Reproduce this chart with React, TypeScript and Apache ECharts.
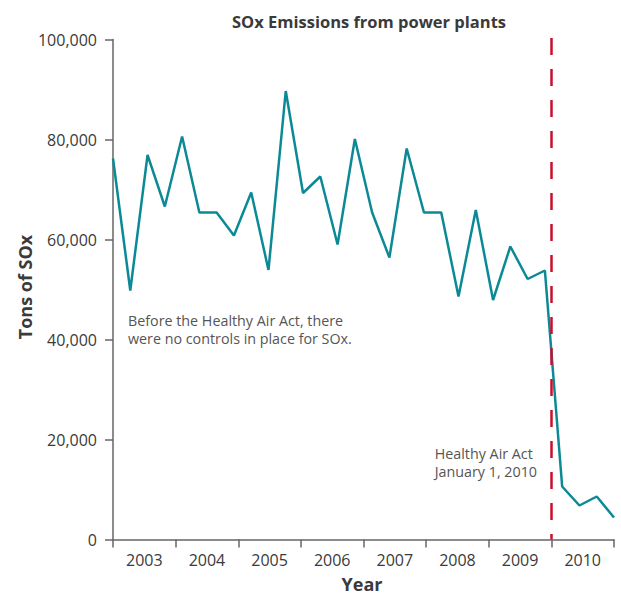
import React, { useEffect, useRef } from "react";
import * as echarts from "echarts";

const years = ["2003", "2004", "2005", "2006", "2007", "2008", "2009", "2010"];
const emissions = [
  76200, 49800, 76900, 66600, 80600, 65400, 65400, 60800, 69400, 53900,
  89700, 69300, 72600, 59000, 80100, 65400, 56400, 78200, 65400, 65400,
  48600, 65900, 47900, 58600, 52100, 53800, 10600, 6800, 8600, 4400,
];
const yTicks = [0, 20000, 40000, 60000, 80000, 100000];
const actYearIndex = 7; // boundary before 2010

const FONT = "'Open Sans', 'Noto Sans', sans-serif";

export default function App() {
  const ref = useRef<HTMLDivElement>(null);
  useEffect(() => {
    if (!ref.current) return;
    const chart = echarts.init(ref.current, null, { renderer: "svg" });
    const lastIdx = emissions.length - 1;
    const actX = (lastIdx * actYearIndex) / years.length;
    chart.setOption({
      animation: false,
      textStyle: { fontFamily: FONT },
      title: {
        text: "SOx Emissions from power plants",
        left: 364,
        textAlign: "center",
        top: 8,
        textStyle: { fontFamily: FONT, fontSize: 16.5, fontWeight: "bold", color: "#3a3a3a" },
      },
      grid: { left: 113, right: 7, top: 39.5, bottom: 55.5, containLabel: false },
      xAxis: [
        {
          type: "value",
          min: 0,
          max: lastIdx,
          show: false,
        },
        {
          type: "category",
          data: years,
          boundaryGap: true,
          position: "bottom",
          axisLine: { show: true, lineStyle: { color: "#666", width: 1.5 } },
          axisTick: { show: true, alignWithLabel: false, length: 8, lineStyle: { color: "#666", width: 1.5 } },
          axisLabel: { fontFamily: FONT, fontSize: 16, color: "#3a3a3a", margin: 12 },
          splitLine: { show: false },
        },
      ],
      yAxis: {
        type: "value",
        min: yTicks[0],
        max: yTicks[yTicks.length - 1],
        interval: yTicks[1] - yTicks[0],
        axisLine: { show: true, lineStyle: { color: "#666", width: 1.5 } },
        axisTick: { show: true, length: 8, lineStyle: { color: "#666", width: 1.5 } },
        axisLabel: {
          fontFamily: FONT,
          fontSize: 16,
          color: "#3a3a3a",
          margin: 16,
          formatter: (v: number) => v.toLocaleString("en-US"),
        },
        splitLine: { show: false },
      },
      series: [
        {
          type: "line",
          xAxisIndex: 0,
          data: emissions.map((v, i) => [i, v]),
          symbol: "none",
          lineStyle: { color: "#0b8a96", width: 2.5 },
          markLine: {
            silent: true,
            symbol: ["none", "none"],
            label: { show: false },
            lineStyle: { color: "#c8102e", width: 2.5, type: [17, 14] },
            data: [
              [
                { coord: [actX, 100000], y: 38 },
                { coord: [actX, 0] },
              ],
            ],
          },
        },
      ],
      graphic: [
        {
          type: "text",
          left: 128,
          top: 311,
          style: {
            text: "Before the Healthy Air Act, there\nwere no controls in place for SOx.",
            font: `14.3px ${FONT}`,
            fill: "#555",
            lineHeight: 18,
          },
        },
        {
          type: "text",
          right: 621 - 537,
          top: 444,
          style: {
            text: "Healthy Air Act\nJanuary 1, 2010",
            font: `14.3px ${FONT}`,
            fill: "#555",
            lineHeight: 18,
            align: "right",
          },
        },
        {
          type: "text",
          x: 25,
          y: 287,
          rotation: Math.PI / 2,
          style: {
            text: "Tons of SOx",
            font: `bold 18px ${FONT}`,
            fill: "#3a3a3a",
            align: "center",
            verticalAlign: "middle",
          },
        },
        {
          type: "text",
          x: 362,
          y: 584,
          style: {
            text: "Year",
            font: `bold 18px ${FONT}`,
            fill: "#3a3a3a",
            align: "center",
            verticalAlign: "middle",
          },
        },
      ],
    });
    return () => chart.dispose();
  }, []);
  return (
    <div
      ref={ref}
      style={{ width: 621, height: 595, position: "absolute", left: 0, top: 0 }}
    />
  );
}
